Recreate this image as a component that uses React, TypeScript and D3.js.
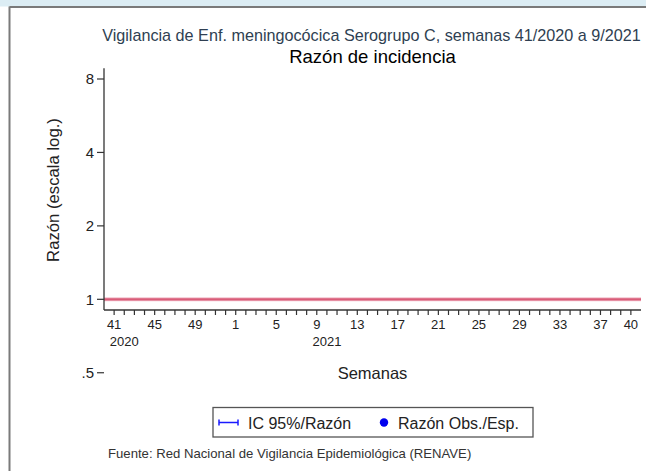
import React from "react";
import * as d3 from "d3";

const W = 646;
const H = 471;

// Data
const weekLabels2020 = [41, 42, 43, 44, 45, 46, 47, 48, 49, 50, 51, 52];
const weekLabels2021 = Array.from({ length: 40 }, (_, i) => i + 1);
const allWeeks = [...weekLabels2020, ...weekLabels2021];
const majorTickWeeks = [41, 45, 49, 1, 5, 9, 13, 17, 21, 25, 29, 33, 37, 40];
const yearLabels = [
  { label: "2020", index: 1 },
  { label: "2021", index: 21 },
];
const yTicks = [0.5, 1, 2, 4, 8];
const referenceRatio = 1;
const xDomain = [-1, 52];
const yDomain = [0.904, 8.85];

const titleText = "Vigilancia de Enf. meningocócica Serogrupo C, semanas 41/2020 a 9/2021";
const subtitleText = "Razón de incidencia";
const xTitle = "Semanas";
const yTitle = "Razón (escala log.)";
const legendItems = ["IC 95%/Razón", "Razón Obs./Esp."];
const sourceText = "Fuente: Red Nacional de Vigilancia Epidemiológica (RENAVE)";

const FONT = "'Liberation Sans', Arial, sans-serif";

export default function App() {
  const x = d3.scaleLinear().domain(xDomain).range([104, 641]);
  const y = d3.scaleLog().base(2).domain(yDomain).range([310, 68.3]);
  const x0 = x(xDomain[0]);
  const x1 = x(xDomain[1]);
  const yBottom = y(yDomain[0]);
  const yTop = y(yDomain[1]);
  const cx = (x0 + x1) / 2;

  const labelIndex = (i: number, w: number) => {
    if (!majorTickWeeks.includes(w)) return false;
    if (i < 12) return w >= 41;
    return w < 41;
  };

  return (
    <svg
      width={W}
      height={H}
      style={{ position: "absolute", left: 0, top: 0, background: "#fff" }}
      fontFamily={FONT}
    >
      {/* frame */}
      <rect x={0} y={0} width={W} height={6.5} fill="#dcedf4" />
      <line x1={9.5} y1={6.5} x2={9.5} y2={H} stroke="#7a7a7a" strokeWidth={2} />
      <line x1={9.5} y1={7} x2={W} y2={7} stroke="#7a7a7a" strokeWidth={2} />

      {/* titles */}
      <text x={cx - 1} y={40.5} textAnchor="middle" fontSize={16.2} fill="#2f3f52">
        {titleText}
      </text>
      <text x={cx} y={63} textAnchor="middle" fontSize={18.5} fill="#000">
        {subtitleText}
      </text>

      {/* reference line */}
      <line
        x1={x0}
        x2={x1}
        y1={y(referenceRatio)}
        y2={y(referenceRatio)}
        stroke="#f3c3cf"
        strokeWidth={4}
      />
      <line
        x1={x0}
        x2={x1}
        y1={y(referenceRatio)}
        y2={y(referenceRatio)}
        stroke="#d95c78"
        strokeWidth={2.2}
      />

      {/* y axis */}
      <line x1={x0} x2={x0} y1={yTop} y2={yBottom} stroke="#333" strokeWidth={1.3} />
      {yTicks.map((t) => (
        <g key={t}>
          <line x1={x0 - 7} x2={x0} y1={y(t)} y2={y(t)} stroke="#333" strokeWidth={1.2} />
          <text
            x={x0 - 10}
            y={y(t)}
            dy="0.36em"
            textAnchor="end"
            fontSize={15}
            fill="#222"
          >
            {t === 0.5 ? ".5" : t}
          </text>
        </g>
      ))}
      <text
        transform={`translate(59,190) rotate(-90)`}
        textAnchor="middle"
        fontSize={16.7}
        fill="#222"
      >
        {yTitle}
      </text>

      {/* x axis */}
      <line x1={x0} x2={x1} y1={yBottom} y2={yBottom} stroke="#333" strokeWidth={1.3} />
      {allWeeks.map((w, i) => (
        <line
          key={i}
          x1={x(i)}
          x2={x(i)}
          y1={yBottom}
          y2={yBottom + 5}
          stroke="#333"
          strokeWidth={1.2}
        />
      ))}
      {allWeeks.map((w, i) =>
        labelIndex(i, w) ? (
          <text key={"l" + i} x={x(i)} y={329} textAnchor="middle" fontSize={13} fill="#222">
            {w}
          </text>
        ) : null
      )}
      {yearLabels.map((yl) => (
        <text key={yl.label} x={x(yl.index)} y={346} textAnchor="middle" fontSize={13} fill="#222">
          {yl.label}
        </text>
      ))}
      <text x={cx} y={378.5} textAnchor="middle" fontSize={16.5} fill="#222">
        {xTitle}
      </text>

      {/* legend */}
      <rect x={213} y={407.5} width={320} height={29.5} fill="#fff" stroke="#555" strokeWidth={1.3} />
      <g stroke="#1a1aff" strokeWidth={1.5}>
        <line x1={219} x2={238} y1={422.5} y2={422.5} />
        <line x1={219} x2={219} y1={419.5} y2={425.5} />
        <line x1={238} x2={238} y1={419.5} y2={425.5} />
      </g>
      <text x={248} y={428.5} fontSize={16} fill="#222">
        {legendItems[0]}
      </text>
      <circle cx={384} cy={422.5} r={4.2} fill="#0000ee" />
      <text x={398} y={428.5} fontSize={16} fill="#222">
        {legendItems[1]}
      </text>

      {/* source */}
      <text x={108} y={457.5} fontSize={13.15} fill="#333">
        {sourceText}
      </text>
    </svg>
  );
}
